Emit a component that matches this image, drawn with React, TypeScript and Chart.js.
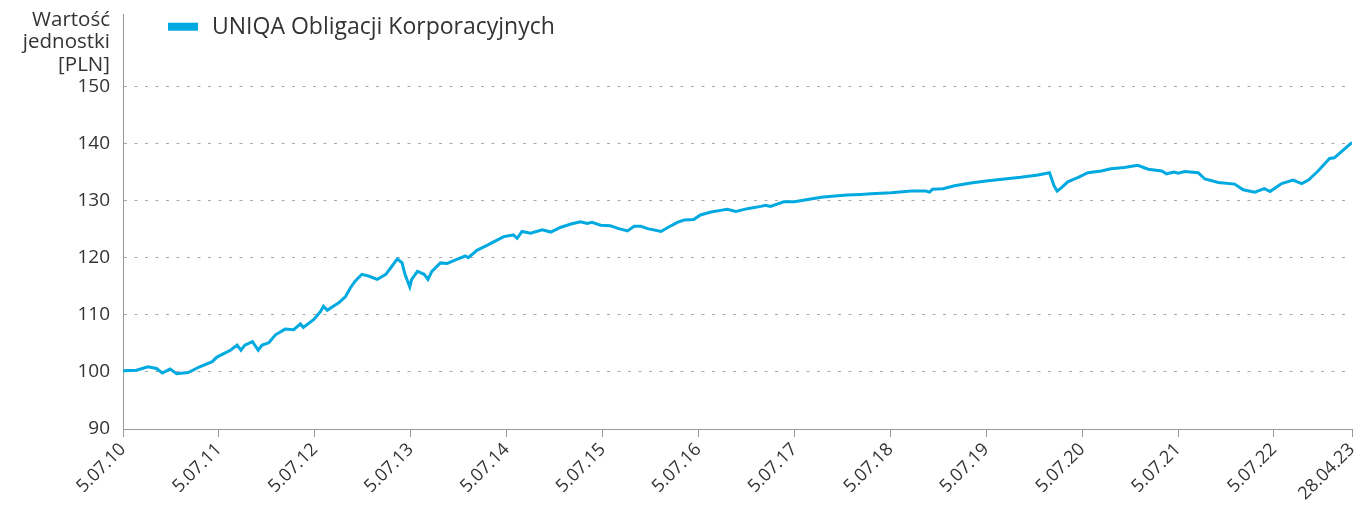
import { useEffect, useRef } from "react";
import { Chart, registerables } from "chart.js";

Chart.register(...registerables);

const seriesLabel = "UNIQA Obligacji Korporacyjnych";
const axisTitleLines = ["Wartość", "jednostki", "[PLN]"];
const xTickValues = [0, 1, 2, 3, 4, 5, 6, 7, 8, 9, 10, 11, 12, 12.814];
const xTickLabels = [
  "5.07.10", "5.07.11", "5.07.12", "5.07.13", "5.07.14", "5.07.15", "5.07.16",
  "5.07.17", "5.07.18", "5.07.19", "5.07.20", "5.07.21", "5.07.22", "28.04.23",
];
const yTickTop = 150;

// years elapsed since 5.07.2010
const yearsSinceStart = [
  0, 0.14, 0.26, 0.35, 0.41, 0.49, 0.56, 0.68, 0.8, 0.93,
  0.98, 1.05, 1.12, 1.19, 1.23, 1.27, 1.35, 1.41, 1.45, 1.52,
  1.59, 1.69, 1.78, 1.85, 1.88, 1.99, 2.06, 2.09, 2.13, 2.2,
  2.25, 2.32, 2.35, 2.37, 2.42, 2.49, 2.56, 2.65, 2.74, 2.79,
  2.86, 2.91, 2.94, 2.99, 3.01, 3.07, 3.14, 3.18, 3.22, 3.31,
  3.38, 3.48, 3.57, 3.6, 3.69, 3.8, 3.88, 3.97, 4.07, 4.11,
  4.16, 4.25, 4.37, 4.46, 4.56, 4.67, 4.77, 4.84, 4.89, 4.98,
  5.08, 5.17, 5.26, 5.33, 5.4, 5.47, 5.61, 5.68, 5.78, 5.85,
  5.95, 6.02, 6.13, 6.23, 6.3, 6.39, 6.51, 6.65, 6.7, 6.75,
  6.89, 7.0, 7.14, 7.28, 7.42, 7.55, 7.69, 7.8, 8.01, 8.22,
  8.37, 8.41, 8.44, 8.55, 8.67, 8.84, 9.02, 9.19, 9.36, 9.54,
  9.66, 9.71, 9.74, 9.78, 9.85, 9.96, 10.06, 10.2, 10.3, 10.44,
  10.58, 10.69, 10.83, 10.88, 10.96, 11.0, 11.07, 11.21, 11.28, 11.42,
  11.59, 11.68, 11.8, 11.9, 11.96, 12.08, 12.2, 12.29, 12.36, 12.46,
  12.58, 12.63, 12.74, 12.814,
];

const unitValues = [
  100.2, 100.3, 100.9, 100.6, 99.8, 100.5, 99.7, 99.9, 100.9, 101.8,
  102.6, 103.2, 103.8, 104.7, 103.8, 104.7, 105.3, 103.8, 104.7, 105.1,
  106.5, 107.5, 107.4, 108.4, 107.8, 109.2, 110.6, 111.5, 110.8, 111.6,
  112.1, 113.2, 114.1, 114.7, 115.9, 117.1, 116.8, 116.2, 117.1, 118.2,
  119.8, 119.1, 117.1, 114.9, 116.2, 117.6, 117.1, 116.2, 117.6, 119.1,
  119.0, 119.7, 120.3, 120.0, 121.3, 122.2, 122.9, 123.7, 124.0, 123.4,
  124.6, 124.3, 124.9, 124.5, 125.3, 125.9, 126.3, 126.0, 126.2, 125.7,
  125.6, 125.1, 124.7, 125.5, 125.5, 125.1, 124.6, 125.3, 126.2, 126.6,
  126.7, 127.5, 128.0, 128.3, 128.5, 128.1, 128.6, 129.0, 129.2, 129.0,
  129.8, 129.8, 130.2, 130.6, 130.8, 131.0, 131.1, 131.2, 131.4, 131.7,
  131.7, 131.5, 132.0, 132.1, 132.6, 133.1, 133.5, 133.8, 134.1, 134.5,
  134.9, 132.5, 131.7, 132.2, 133.3, 134.1, 134.9, 135.2, 135.6, 135.8,
  136.2, 135.5, 135.2, 134.7, 135.0, 134.8, 135.1, 134.9, 133.8, 133.2,
  132.9, 131.9, 131.5, 132.1, 131.6, 133.0, 133.6, 133.0, 133.6, 135.2,
  137.4, 137.5, 139.1, 140.2,
];

const FONT = "'Open Sans', sans-serif";
const TEXT = "#333333";
const LINE = "#00a9e0";
const AXIS = "#9a9a9a";

export default function App() {
  const ref = useRef<HTMLCanvasElement>(null);

  useEffect(() => {
    if (!ref.current) return;

    const extras = {
      id: "extras",
      afterDraw(chart: any) {
        const ctx = chart.ctx;
        const area = chart.chartArea;
        ctx.save();
        // axis title (horizontal, above the y ticks)
        ctx.font = `20.5px ${FONT}`;
        ctx.fillStyle = TEXT;
        ctx.textAlign = "right";
        ctx.textBaseline = "alphabetic";
        const tx = area.left - 13;
        axisTitleLines.forEach((t, i) => ctx.fillText(t, tx, 18 + i * 22.3));
        // legend
        const ds = chart.data.datasets[0];
        ctx.fillStyle = ds.borderColor;
        ctx.fillRect(area.left + 45, 14.7, 30, 8);
        ctx.fillStyle = TEXT;
        ctx.textAlign = "left";
        ctx.font = `23px ${FONT}`;
        ctx.fillText(ds.label, area.left + 89, 25.8);
        ctx.restore();
      },
    };

    const chart = new Chart(ref.current, {
      type: "line",
      data: {
        datasets: [
          {
            label: seriesLabel,
            data: yearsSinceStart.map((x, i) => ({ x, y: unitValues[i] })),
            borderColor: LINE,
            backgroundColor: LINE,
            borderWidth: 3,
            pointRadius: 0,
            tension: 0,
            fill: false,
          },
        ],
      },
      options: {
        animation: false,
        responsive: true,
        maintainAspectRatio: false,
        layout: { padding: { top: 6, left: 70, right: 8, bottom: 0 }, autoPadding: false },
        plugins: {
          tooltip: { enabled: false },
          legend: { display: false },
        },
        scales: {
          x: {
            type: "linear",
            min: 0,
            max: 12.814,
            afterBuildTicks: (scale: any) => {
              scale.ticks = xTickValues.map((v) => ({ value: v }));
            },
            afterFit: (scale: any) => {
              scale.height = 77;
              scale.paddingLeft = 0;
              scale.paddingRight = 0;
            },
            ticks: {
              autoSkip: false,
              maxRotation: 45,
              minRotation: 45,
              padding: 2,
              color: TEXT,
              font: { family: FONT, size: 18 },
              callback: (_v: any, i: number) => xTickLabels[i],
            },
            grid: {
              drawOnChartArea: false,
              drawTicks: true,
              tickLength: 8,
              color: AXIS,
            },
            border: { display: true, color: AXIS, width: 1 },
          },
          y: {
            type: "linear",
            min: 90,
            max: 162.7,
            afterBuildTicks: (scale: any) => {
              scale.ticks = scale.ticks.filter(
                (t: any) => t.value <= yTickTop && Number.isInteger(t.value)
              );
            },
            afterFit: (scale: any) => {
              scale.width = 45;
              scale.paddingTop = 0;
              scale.paddingBottom = 0;
            },
            ticks: {
              stepSize: 10,
              padding: 13,
              color: TEXT,
              font: { family: FONT, size: 19 },
            },
            grid: {
              drawTicks: false,
              color: "#a8a8a8",
              lineWidth: 1,
            },
            border: { display: true, color: AXIS, width: 1, dash: [3, 7.5] } as any,
          },
        },
      },
      plugins: [extras],
    } as any);

    return () => chart.destroy();
  }, []);

  return (
    <div style={{ position: "relative", width: "100%", height: 498 }}>
      <canvas ref={ref} />
    </div>
  );
}
